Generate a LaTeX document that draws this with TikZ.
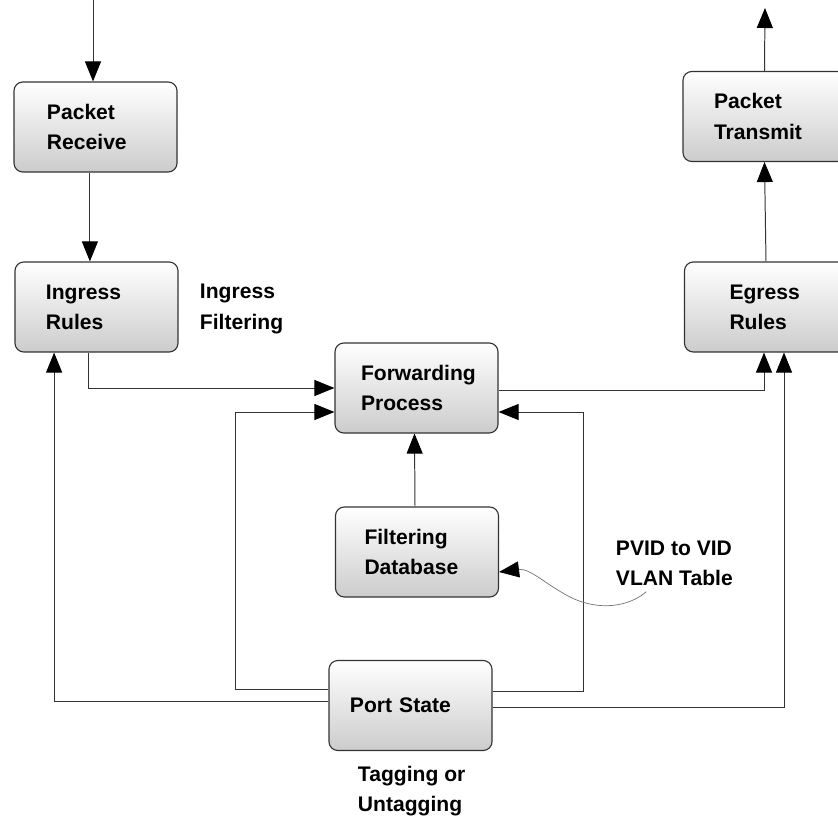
\documentclass[tikz,border=0pt]{standalone}
\usepackage{fontspec}
\setmainfont{Liberation Sans}
\usetikzlibrary{arrows.meta}

\tikzset{
    box/.style={draw=black!80, line width=0.8pt, rounded corners=2.2mm,
        top color=white, bottom color=black!20,
        minimum width=40.75mm, minimum height=22.5mm,
        align=left, text width=#1, font=\bfseries\fontsize{15}{21.5}\selectfont},
    box/.default=24mm,
    note/.style={align=left, anchor=west, font=\bfseries\fontsize{15}{21.5}\selectfont},
    conn/.style={->, line width=0.7pt, draw=black!80}
}

\begin{document}
\begin{tikzpicture}[x=0.25mm, y=-0.25mm, >={Triangle[length=5mm, width=4mm, color=black]}]
                        \useasboundingbox (0,0) rectangle (838,820);
                        % Nodes
                        \node[box=24.25mm] at (95.5, 127) (recv) {Packet\\Receive};
                        \node[box=25.25mm] at (96.5, 307) (ingr) {Ingress\\Rules};
                        \node[box=25.25mm] at (764.5, 116.5) (xmit) {Packet\\Transmit};
                        \node[box=18.25mm] at (766, 307) (egr) {Egress\\Rules};
                        \node[box=27.75mm] at (416.5, 388) (fwd) {Forwarding\\Process};
                        \node[box=26.25mm] at (417, 552) (fdb) {Filtering\\Database};
                        \node[box=30.25mm] at (410.5, 705.5) (port) {Port State};

                        \node[note] at (195, 309) (filt) {Ingress\\Filtering};
                        \node[note] at (611, 563) (pvid) {PVID to VID\\VLAN Table};
                        \node[note] at (353, 791) (tag) {Tagging or\\Untagging};

                        \coordinate (in) at (93, 0);
                        \coordinate (out) at (765, 8);

                        % Edges
                        \draw[conn] (in) -- (in |- recv.north);
                        \draw[conn] ([xshift=-1.4mm]recv.south) -- ([xshift=-1.4mm]recv.south |- ingr.north);
                        \draw[conn] ([xshift=-2.1mm]ingr.south) |- (fwd.west);
                        \draw[conn] ([yshift=3.9mm]port.west) -- ++(-93, 0) |- ([yshift=-6mm]fwd.west);
                        \draw[conn] ([yshift=0.9mm]port.west) -| ([xshift=-10.6mm]ingr.south);
                        \draw[conn] ([yshift=3.4mm]port.east) -- ++(91, 0) |- ([yshift=-6mm]fwd.east);
                        \draw[conn] ([yshift=-0.4mm]port.east) -| ([xshift=4.5mm]egr.south);
                        \draw[conn] ([yshift=-0.5mm]fwd.east) -| ([xshift=-0.5mm]egr.south);
                        \draw[conn] ([xshift=-0.5mm]fdb.north) -- ([xshift=-0.5mm]fwd.south);
                        \draw[conn] (egr.north) -- (xmit.south);
                        \draw[conn] (xmit.north) -- (out);

                        % Note pointer
                        \draw[conn, draw=black!55, line width=0.5pt] ([xshift=-7mm, yshift=-0.3mm]pvid.south)
                            .. controls (630, 606) and (600, 612) .. (570, 597)
                            .. controls (545, 584) and (530, 568) .. ([yshift=-5mm]fdb.east);
                    \end{tikzpicture}
\end{document}
